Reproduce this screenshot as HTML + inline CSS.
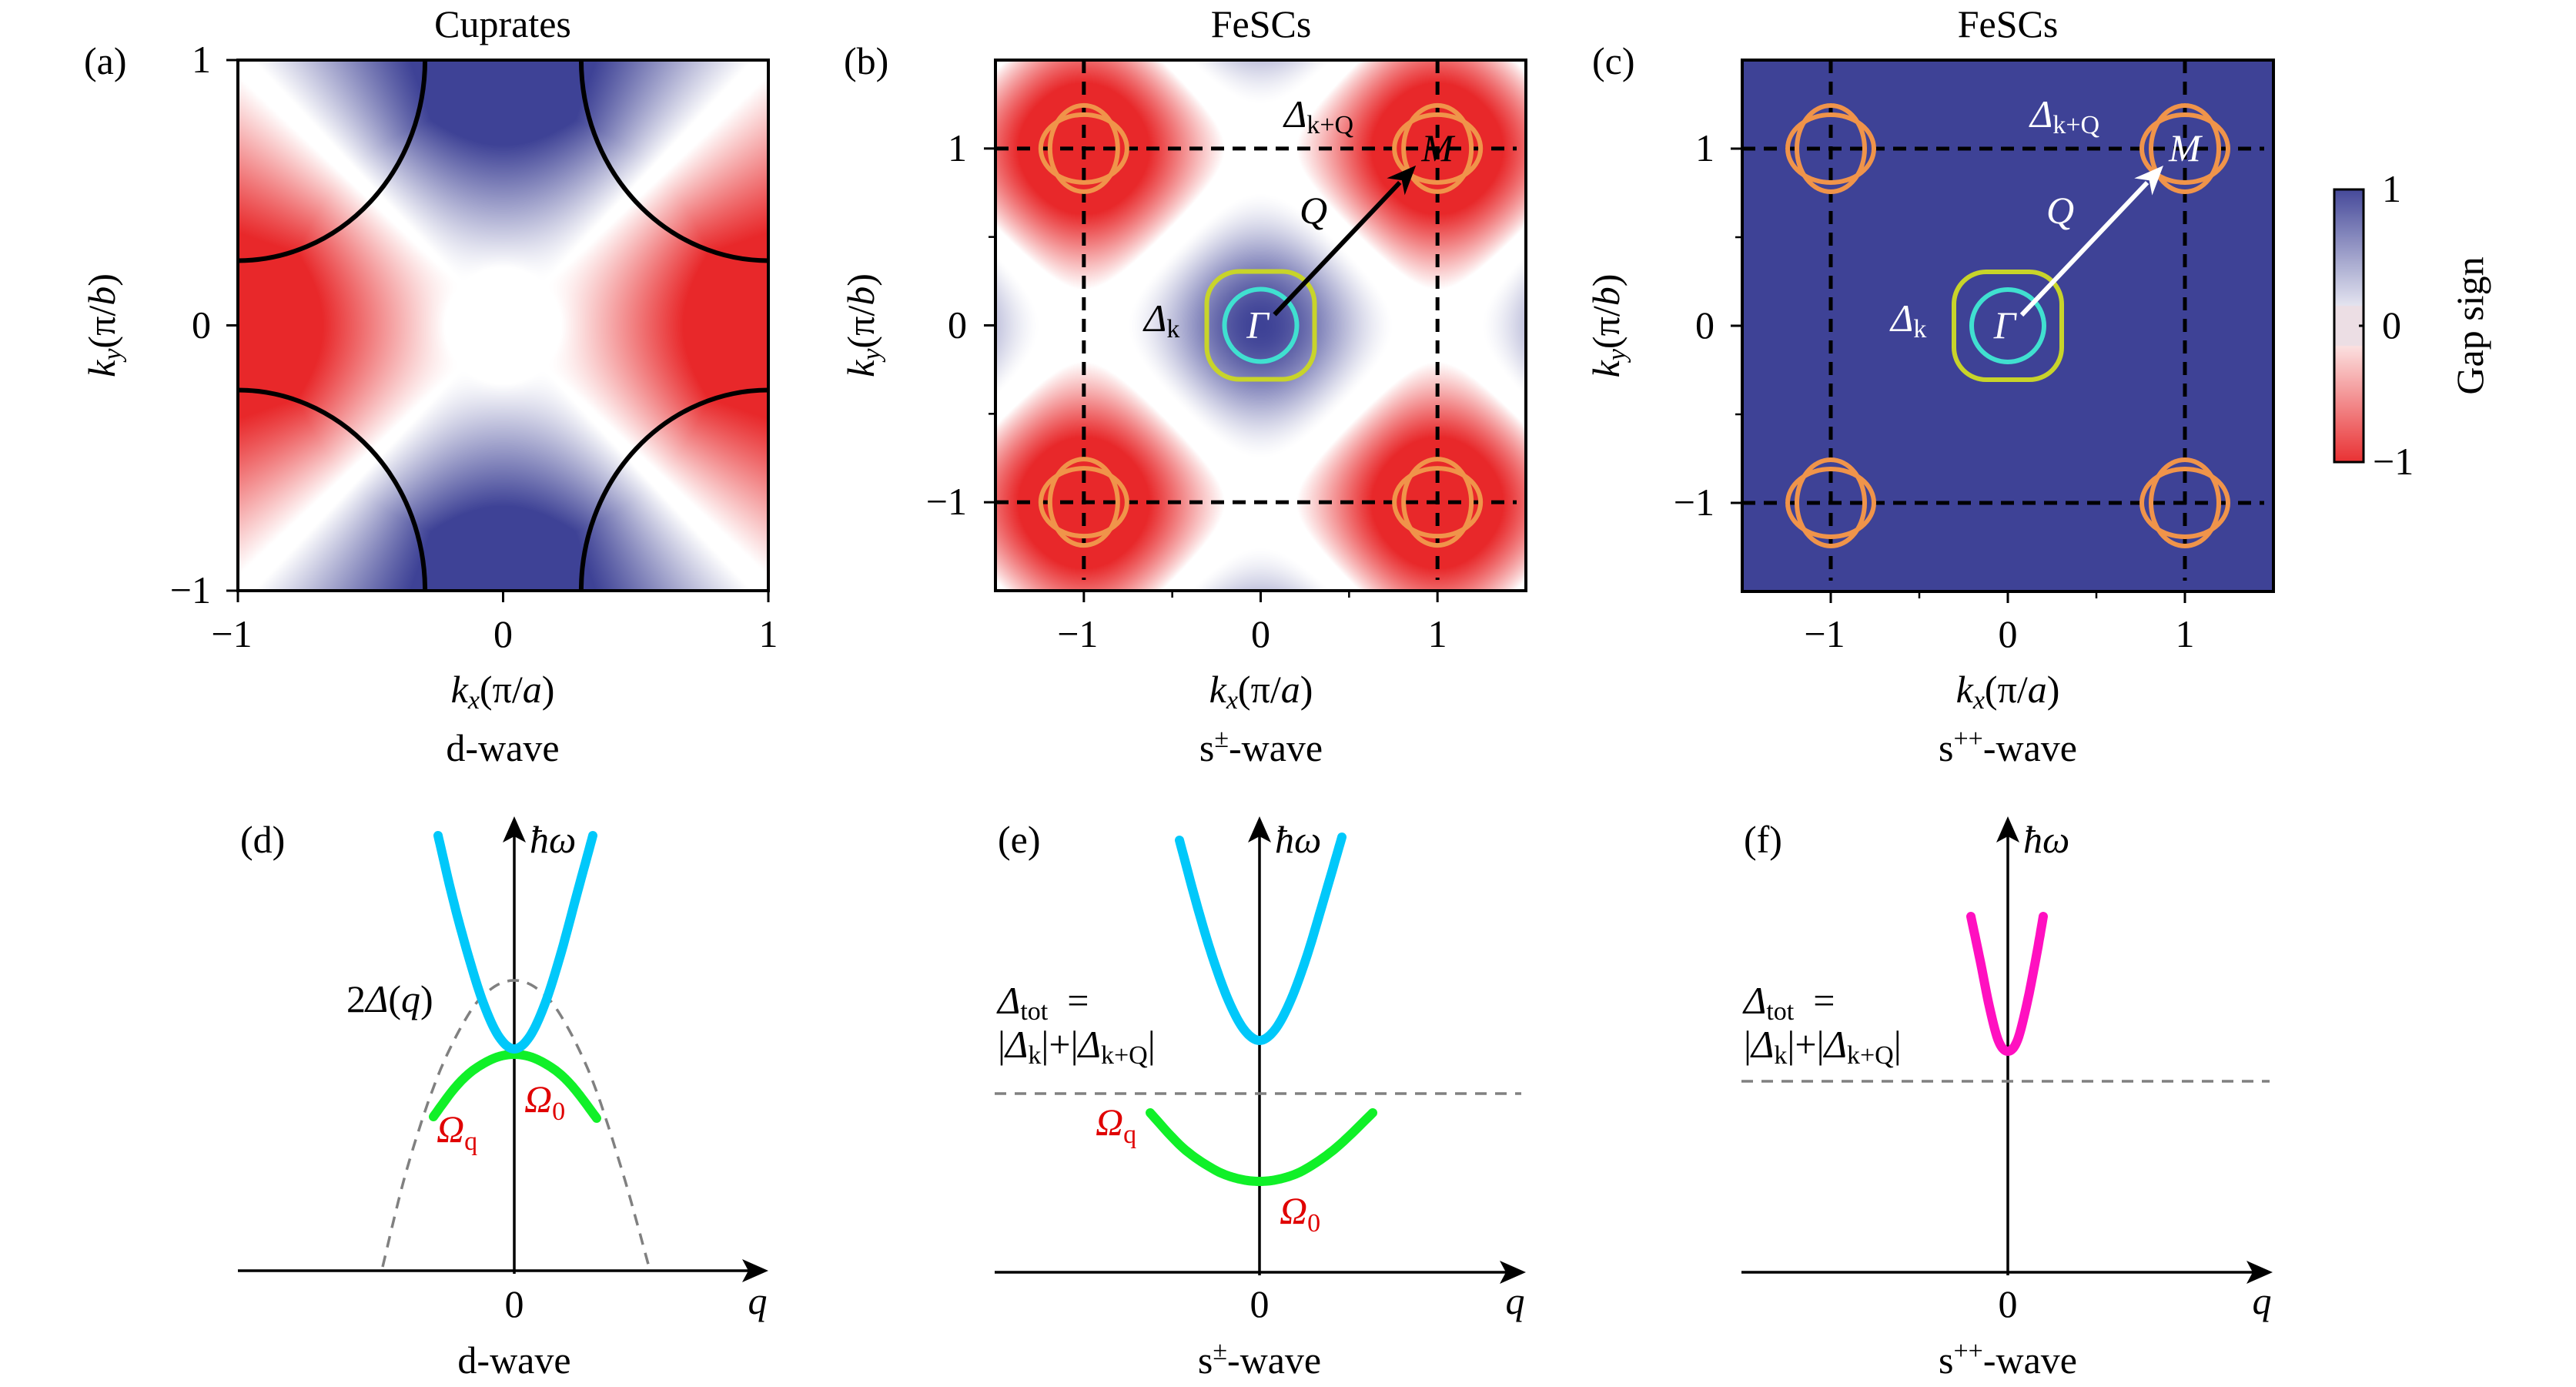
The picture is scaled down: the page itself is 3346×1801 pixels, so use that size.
<!DOCTYPE html>
<html><head><meta charset="utf-8">
<style>
html,body{margin:0;padding:0;background:#fff;}
#wrap{position:relative;width:3346px;height:1801px;overflow:hidden;background:#fff;}
canvas{position:absolute;}
svg{position:absolute;left:0;top:0;}
text{font-family:"Liberation Serif","DejaVu Serif",serif;fill:#000;}
</style></head>
<body>
<div id="wrap">
<canvas id="hmA" width="689" height="690" style="left:309px;top:78px"></canvas>
<canvas id="hmB" width="689" height="690" style="left:1293px;top:78px"></canvas>
<canvas id="hmC" width="690" height="690" style="left:2263px;top:78px"></canvas>
<canvas id="cbar" width="38" height="354" style="left:3032px;top:246px"></canvas>
<svg id="svg" width="3346" height="1801" viewBox="0 0 3346 1801">
<defs><clipPath id="clipA"><rect x="309" y="78" width="689" height="690"/></clipPath></defs>
<g id="topg" font-size="50" font-family="Liberation Serif, DejaVu Serif, serif"></g>
<g id="bottomg" font-size="50" font-family="Liberation Serif, DejaVu Serif, serif"></g>
</svg>
</div>
<script>
// ---------- bottom-panel data (q and ħω in arbitrary units) ----------
const dCyanQ = [-0.99,-0.8,-0.6,-0.4,-0.2,0,0.2,0.4,0.6,0.8,1.02];
const dCyanW = [5.65,4.84,4.10,3.47,3.04,2.88,3.04,3.47,4.10,4.84,5.65];
const dGreenQ = [-1.05,-0.8,-0.6,-0.4,-0.2,0,0.2,0.4,0.6,0.8,1.07];
const dGreenW = [2.00,2.34,2.55,2.69,2.78,2.81,2.78,2.69,2.55,2.34,1.98];
const dGapQ = [-1.71,-1.4,-1.0,-0.6,-0.3,0,0.3,0.6,1.0,1.4,1.75];
const dGapW = [0.05,1.30,2.51,3.32,3.66,3.77,3.66,3.32,2.51,1.30,0.05];
const eCyanQ = [-1.04,-0.8,-0.6,-0.4,-0.2,0,0.2,0.4,0.6,0.8,1.07];
const eCyanW = [5.61,4.72,4.06,3.52,3.15,3.01,3.15,3.52,4.06,4.72,5.65];
const eGreenQ = [-1.42,-1.0,-0.6,-0.3,0,0.3,0.6,1.0,1.47];
const eGreenW = [2.07,1.62,1.34,1.22,1.18,1.22,1.34,1.62,2.07];
const eTot = [2.32];
const fMagQ = [-0.48,-0.36,-0.24,-0.12,0,0.12,0.24,0.36,0.46];
const fMagW = [4.62,4.05,3.45,3.00,2.87,3.00,3.45,4.05,4.62];
const fTot = [2.48];
// ---------- top-panel tick data ----------
const tickA = [-1,0,1];
const tickBC = [-1,0,1];
const minorBC = [-0.5,0.5];
const cbTicks = [1,0,-1];

const NS="http://www.w3.org/2000/svg";
function mk(parent,tag,attrs,txt){const e=document.createElementNS(NS,tag);for(const k in attrs)e.setAttribute(k,attrs[k]);if(txt!==undefined)e.textContent=txt;parent.appendChild(e);return e;}
const topG=document.getElementById('topg'), botG=document.getElementById('bottomg');

const BLUE=[62,66,150], RED=[232,40,42];
function cmap(v){
  const t=Math.min(1,Math.abs(v)); const c=v>=0?BLUE:RED;
  return [255+(c[0]-255)*t,255+(c[1]-255)*t,255+(c[2]-255)*t];
}
function fieldA(x,y){
  const r=Math.hypot(x,y); if(r<1e-6) return 0;
  const c2=(y*y-x*x)/(r*r); // -cos2θ : red on kx axis, blue on ky axis
  const g=Math.min(1,Math.max(0,(r-0.22)/0.6));
  const s=Math.sign(c2)*Math.max(0,Math.abs(c2)-0.06)/0.94;
  return Math.max(-1,Math.min(1,s*1.3*g));
}
function fieldB(x,y){
  const v=(Math.cos(Math.PI*x)+Math.cos(Math.PI*y))/2;
  if(v>=0) return Math.pow(Math.max(0,(v-0.15)/0.85),1.3);
  return -Math.pow(Math.min(1,Math.max(0,(-v-0.1)/0.6)),0.9);
}
function drawHeat(id,range,fn){
  const cv=document.getElementById(id),ctx=cv.getContext('2d');
  const W=cv.width,H=cv.height,img=ctx.createImageData(W,H);
  for(let j=0;j<H;j++)for(let i=0;i<W;i++){
    const kx=-range+2*range*(i+0.5)/W, ky=range-2*range*(j+0.5)/H;
    const c=cmap(fn(kx,ky)); const p=(j*W+i)*4;
    img.data[p]=c[0];img.data[p+1]=c[1];img.data[p+2]=c[2];img.data[p+3]=255;
  }
  ctx.putImageData(img,0,0);
}
drawHeat('hmA',1,fieldA);
drawHeat('hmB',1.5,fieldB);
drawHeat('hmC',1.5,()=>1);
(function(){const cv=document.getElementById('cbar'),ctx=cv.getContext('2d');
  for(let j=0;j<cv.height;j++){const v=1-2*j/(cv.height-1);const c=cmap(v*0.95);
    const m=Math.abs(v)<0.15?[236,222,228]:c;
    ctx.fillStyle=`rgb(${m[0]|0},${m[1]|0},${m[2]|0})`;ctx.fillRect(0,j,cv.width,1);}})();

const panels=[
 {id:'a',L:309,T:78,S:689,R:1,title:'Cuprates',tx:653,lab:'(a)',lx:109,ky:133,ytr:274,wave:'d-wave'},
 {id:'b',L:1293,T:78,S:689,R:1.5,title:'FeSCs',tx:1638,lab:'(b)',lx:1096,ky:1119,ytr:1256,wave:'s±'},
 {id:'c',L:2263,T:78,S:690,R:1.5,title:'FeSCs',tx:2608,lab:'(c)',lx:2068,ky:2087,ytr:2227,wave:'s++'}
];
panels.forEach(p=>{
  const g=mk(topG,'g',{});
  
  
  const X=v=>p.L+(v+p.R)/(2*p.R)*p.S, Y=v=>p.T+(p.R-v)/(2*p.R)*p.S;
  const t=mk(g,'text',{x:p.tx,y:48,'text-anchor':'middle'},p.title);
  
  
  const l=mk(g,'text',{x:p.lx,y:96},p.lab);
  
  
  if(p.id!=='a'){
    [-1,1].forEach(v=>{
      const lv=mk(g,'line',{x1:X(v),y1:p.T,x2:X(v),y2:p.T+p.S-14,stroke:'#000','stroke-width':5,'stroke-dasharray':'17 11'});
      
      
      const lh=mk(g,'line',{x1:p.L,y1:Y(v),x2:p.L+p.S-12,y2:Y(v),stroke:'#000','stroke-width':5,'stroke-dasharray':'17 11'});
      
      
    });
    [[-1,1],[1,1],[-1,-1],[1,-1]].forEach(c=>{
      [[56,44],[44,56]].forEach(r=>{
        const e=mk(g,'ellipse',{cx:X(c[0]),cy:Y(c[1]),rx:r[0],ry:r[1],fill:'none',stroke:'#F0944A','stroke-width':6});
        
        
      });
    });
    const ys=mk(g,'rect',{x:X(0)-70,y:Y(0)-70,width:140,height:140,rx:42,ry:42,fill:'none',stroke:'#C8D42A','stroke-width':6});
    
    
    const cy=mk(g,'circle',{cx:X(0),cy:Y(0),r:47,fill:'none',stroke:'#40E0D0','stroke-width':6});
    
    
    const col=p.id==='b'?'#000':'#fff';
    const x1=X(0)+18,y1=Y(0)-14,x2=X(1)-28,y2=Y(1)+22;
    const ang=Math.atan2(y2-y1,x2-x1),hl=38,hw=16;
    const ar=mk(g,'line',{x1:x1,y1:y1,x2:x2-hl*0.8*Math.cos(ang),y2:y2-hl*0.8*Math.sin(ang),stroke:col,'stroke-width':6});
    
    
    const bx=x2-hl*Math.cos(ang),by=y2-hl*Math.sin(ang);
    const hd=mk(g,'polygon',{points:`${x2},${y2} ${bx+hw*Math.sin(ang)},${by-hw*Math.cos(ang)} ${x2-hl*0.7*Math.cos(ang)},${y2-hl*0.7*Math.sin(ang)} ${bx-hw*Math.sin(ang)},${by+hw*Math.cos(ang)}`,fill:col});
    
    
    const tc=p.id==='b'?'#000':'#fff';
    const m=mk(g,'text',{x:X(1),y:Y(1)+16,'text-anchor':'middle','font-style':'italic',style:'fill:'+tc},'M');
     
    const gm=mk(g,'text',{x:X(0)-4,y:Y(0)+16,'text-anchor':'middle','font-style':'italic',style:'fill:#fff'},'Γ');
     
    const qx=p.id==='b'?1706:2676;
    const q=mk(g,'text',{x:qx,y:290,'text-anchor':'middle','font-style':'italic',style:'fill:'+tc},'Q');
     
    const dk=mk(g,'text',{x:p.id==='b'?1486:2456,y:430,style:'fill:'+tc});
     
    mk(dk,'tspan',{'font-style':'italic'},'Δ'); mk(dk,'tspan',{'font-size':34,dy:8},'k');
    const dq=mk(g,'text',{x:p.id==='b'?1668:2637,y:165,style:'fill:'+tc});
     
    mk(dq,'tspan',{'font-style':'italic'},'Δ'); mk(dq,'tspan',{'font-size':34,dy:8},'k+Q');
  } else {
    const rr=0.72/2*p.S;
    const cg=mk(g,'g',{'clip-path':'url(#clipA)'});
    
    
    [[-1,1],[1,1],[-1,-1],[1,-1]].forEach(c=>{
      const a=mk(cg,'ellipse',{cx:X(c[0]),cy:Y(c[1]),rx:rr*0.98,ry:rr*1.05,fill:'none',stroke:'#000','stroke-width':6});
      
      
    });
  }
  const fr=mk(g,'rect',{x:p.L,y:p.T,width:p.S,height:p.S,fill:'none',stroke:'#000','stroke-width':4});
  
  
  const ticks=p.id==='a'?tickA:tickBC;
  ticks.forEach(v=>{
    const tx=mk(g,'line',{x1:X(v),y1:p.T+p.S,x2:X(v),y2:p.T+p.S+15,stroke:'#000','stroke-width':3});
     
    const ty=mk(g,'line',{x1:p.L,y1:Y(v),x2:p.L-15,y2:Y(v),stroke:'#000','stroke-width':3});
     
    const s=v<0?'−'+Math.abs(v):String(v);
    const xl=mk(g,'text',{x:X(v)+(v<0?-8:0),y:840,'text-anchor':'middle'},s);
     
    const yl=mk(g,'text',{x:p.ytr,y:Y(v)+16,'text-anchor':'end'},s);
     
  });
  if(p.id!=='a') minorBC.forEach(v=>{
    const a=mk(g,'line',{x1:X(v),y1:p.T+p.S,x2:X(v),y2:p.T+p.S+9,stroke:'#000','stroke-width':2.5});
     
    const b=mk(g,'line',{x1:p.L,y1:Y(v),x2:p.L-9,y2:Y(v),stroke:'#000','stroke-width':2.5});
     
  });
  const xa=mk(g,'text',{x:p.tx,y:912,'text-anchor':'middle'});
   
  mk(xa,'tspan',{'font-style':'italic'},'k'); mk(xa,'tspan',{'font-size':34,'font-style':'italic',dy:8},'x'); mk(xa,'tspan',{dy:-8},'(π/'); mk(xa,'tspan',{'font-style':'italic'},'a'); mk(xa,'tspan',{},')');
  const ya=mk(g,'text',{x:0,y:0,'text-anchor':'middle',transform:`translate(${p.ky+16},${p.T+p.S/2}) rotate(-90)`});
   
  mk(ya,'tspan',{'font-style':'italic'},'k'); mk(ya,'tspan',{'font-size':34,'font-style':'italic',dy:8},'y'); mk(ya,'tspan',{dy:-8},'(π/'); mk(ya,'tspan',{'font-style':'italic'},'b'); mk(ya,'tspan',{},')');
  const wv=mk(g,'text',{x:p.tx,y:988,'text-anchor':'middle'});
   
  if(p.id==='a'){wv.textContent='d-wave';}
  else {mk(wv,'tspan',{},'s');mk(wv,'tspan',{'font-size':34,dy:-18},p.wave.slice(1));mk(wv,'tspan',{dy:18},'-wave');}
});
(function(){
  const f=mk(topG,'rect',{x:3032,y:246,width:38,height:354,fill:'none',stroke:'#000','stroke-width':3});
   
  cbTicks.forEach(v=>{
    const y=246+(1-v)/2*354;
    const t=mk(topG,'line',{x1:3064,y1:y,x2:3070,y2:y,stroke:'#000','stroke-width':3});
     
    const l=mk(topG,'text',{x:v<0?3082:3094,y:y+16},v<0?'−1':String(v));
     
  });
  const gl=mk(topG,'text',{x:0,y:0,'text-anchor':'middle',transform:'translate(3225,423) rotate(-90)'},'Gap sign');
   
})();

const SX=100, SY=100;
function makePanel(ox,oy,left,right,lab,labx,name,waveFn){
  const g=mk(botG,'g',{});
  
  
  const X=q=>ox+q*SX, Y=w=>oy-w*SY;
  const ha=mk(g,'line',{x1:left,y1:oy,x2:right-20,y2:oy,stroke:'#000','stroke-width':3.5});
   
  const hh=mk(g,'polygon',{points:`${right},${oy} ${right-34},${oy-15} ${right-26},${oy} ${right-34},${oy+15}`,fill:'#000'});
   
  const va=mk(g,'line',{x1:ox,y1:oy+4,x2:ox,y2:1080,stroke:'#000','stroke-width':3.5});
   
  const vh=mk(g,'polygon',{points:`${ox},1060 ${ox-15},1094 ${ox},1086 ${ox+15},1094`,fill:'#000'});
   
  const hw=mk(g,'text',{x:ox+20,y:1107,'font-style':'italic'},'ħω');
   
  const z=mk(g,'text',{x:ox,y:1710,'text-anchor':'middle'},'0');
   
  const q=mk(g,'text',{x:right-14,y:1706,'text-anchor':'middle','font-style':'italic'},'q');
   
  const l=mk(g,'text',{x:labx,y:1107},lab);
   
  const w=mk(g,'text',{x:ox,y:1783,'text-anchor':'middle'});
   
  waveFn(w);
  return {g,X,Y};
}
function curve(pp,qs,ws,attrs,name){
  const d=qs.map((q,i)=>(i?'L':'M')+pp.X(q).toFixed(1)+' '+pp.Y(ws[i]).toFixed(1)).join(' ');
  const e=mk(pp.g,'path',Object.assign({d:d,fill:'none','stroke-linecap':'round','stroke-linejoin':'round'},attrs));
  
  
  return e;
}
function smooth(qs,ws){
  const Q=[],W=[];
  for(let i=0;i<qs.length-1;i++){
    const p0=i?i-1:i,p3=i+2<qs.length?i+2:i+1;
    for(let k=0;k<10;k++){const t=k/10;
      const f=(a)=>{const P0=a[p0],P1=a[i],P2=a[i+1],P3=a[p3];return 0.5*((2*P1)+(-P0+P2)*t+(2*P0-5*P1+4*P2-P3)*t*t+(-P0+3*P1-3*P2+P3)*t*t*t);};
      Q.push(f(qs));W.push(f(ws));
    }
  }
  Q.push(qs[qs.length-1]);W.push(ws[ws.length-1]);return [Q,W];
}
function tlabel(g,x,y,main,sub,col,name){
  const t=mk(g,'text',{x:x,y:y,style:'fill:'+col});
   
  mk(t,'tspan',{'font-style':'italic'},main); mk(t,'tspan',{'font-size':34,dy:10},sub);
  return t;
}
function totLabel(g,x){
  const a=mk(g,'text',{x:x,y:1316});
   
  mk(a,'tspan',{'font-style':'italic'},'Δ'); mk(a,'tspan',{'font-size':34,dy:8},'tot'); mk(a,'tspan',{dy:-8},'\u00a0\u00a0=');
  const b=mk(g,'text',{x:x,y:1373});
   
  mk(b,'tspan',{},'|'); mk(b,'tspan',{'font-style':'italic'},'Δ'); mk(b,'tspan',{'font-size':34,dy:8},'k');
  mk(b,'tspan',{dy:-8},'|+|'); mk(b,'tspan',{'font-style':'italic'},'Δ'); mk(b,'tspan',{'font-size':34,dy:8},'k+Q'); mk(b,'tspan',{dy:-8},'|');
}
const CY='#00C8FA', GR='#10F028', MG='#FF10C0';
const pd=makePanel(668,1650,309,998,'(d)',312,'d',w=>{w.textContent='d-wave';});
let s=smooth(dGapQ,dGapW); curve(pd,s[0],s[1],{stroke:'#808080','stroke-width':3.5,'stroke-dasharray':'15 11','stroke-linecap':'butt'},'gap-2delta-q');
s=smooth(dGreenQ,dGreenW); curve(pd,s[0],s[1],{stroke:GR,'stroke-width':12},'amplitude-mode-green');
s=smooth(dCyanQ,dCyanW); curve(pd,s[0],s[1],{stroke:CY,'stroke-width':12},'continuum-cyan');
(function(){const t=mk(pd.g,'text',{x:450,y:1314});
 mk(t,'tspan',{},'2');mk(t,'tspan',{'font-style':'italic'},'Δ');mk(t,'tspan',{},'(');mk(t,'tspan',{'font-style':'italic'},'q');mk(t,'tspan',{},')');})();
tlabel(pd.g,681,1444,'Ω','0','#e00000','omega-0-label');
tlabel(pd.g,567,1483,'Ω','q','#e00000','omega-q-label');
const pe=makePanel(1636,1652,1292,1982,'(e)',1296,'e',w=>{mk(w,'tspan',{},'s');mk(w,'tspan',{'font-size':34,dy:-18},'±');mk(w,'tspan',{dy:18},'-wave');});
(function(){const l=mk(pe.g,'line',{x1:1292,y1:pe.Y(eTot[0]),x2:1976,y2:pe.Y(eTot[0]),stroke:'#808080','stroke-width':3.5,'stroke-dasharray':'15 11'});
 })();
s=smooth(eGreenQ,eGreenW); curve(pe,s[0],s[1],{stroke:GR,'stroke-width':12},'amplitude-mode-green');
s=smooth(eCyanQ,eCyanW); curve(pe,s[0],s[1],{stroke:CY,'stroke-width':12},'continuum-cyan');
totLabel(pe.g,1296);
tlabel(pe.g,1423,1474,'Ω','q','#e00000','omega-q-label');
tlabel(pe.g,1662,1589,'Ω','0','#e00000','omega-0-label');
const pf=makePanel(2608,1652,2262,2952,'(f)',2265,'f',w=>{mk(w,'tspan',{},'s');mk(w,'tspan',{'font-size':34,dy:-18},'++');mk(w,'tspan',{dy:18},'-wave');});
(function(){const l=mk(pf.g,'line',{x1:2262,y1:pf.Y(fTot[0]),x2:2948,y2:pf.Y(fTot[0]),stroke:'#808080','stroke-width':3.5,'stroke-dasharray':'15 11'});
 })();
s=smooth(fMagQ,fMagW); curve(pf,s[0],s[1],{stroke:MG,'stroke-width':12},'continuum-magenta');
totLabel(pf.g,2265);
</script>
</body></html>
